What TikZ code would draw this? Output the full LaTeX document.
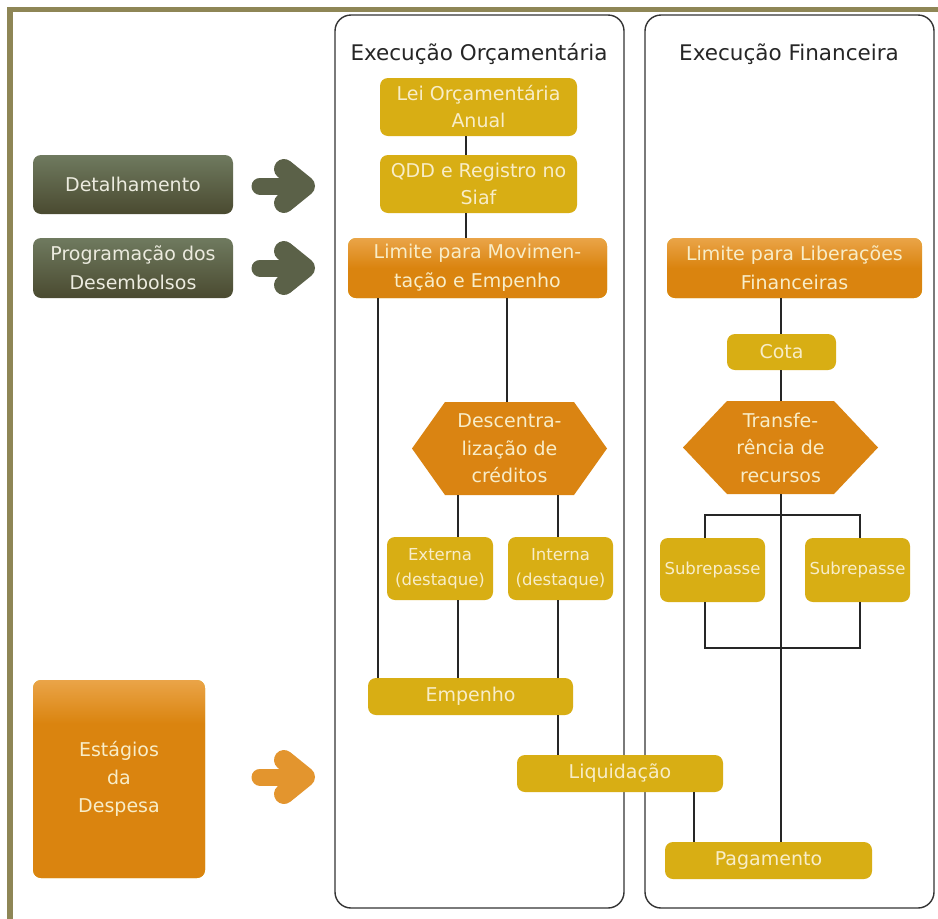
\documentclass[tikz,border=0pt]{standalone}
\usepackage{fontspec}
\setmainfont{DejaVu Sans}
\definecolor{frame}{HTML}{8E8656}
\definecolor{boxyellow}{HTML}{D8AE14}
\definecolor{boxtext}{HTML}{F8EDC8}
\definecolor{orangetop}{HTML}{EAA448}
\definecolor{orangebot}{HTML}{DA840F}
\definecolor{hexcol}{HTML}{DA8412}
\definecolor{greentop}{HTML}{6F7A5F}
\definecolor{greenbot}{HTML}{4A4A30}
\definecolor{greentext}{HTML}{ECEBDF}
\definecolor{arrowgreen}{HTML}{5B6148}
\definecolor{arroworange}{HTML}{E3952E}
\pgfdeclareverticalshading{estshade}{100bp}{color(0bp)=(orangebot); color(25bp)=(orangebot); color(64bp)=(orangebot); color(75bp)=(orangetop); color(100bp)=(orangetop)}
\pgfdeclareverticalshading{limshade}{100bp}{color(0bp)=(orangebot); color(25bp)=(orangebot); color(50bp)=(orangebot); color(75bp)=(orangetop); color(100bp)=(orangetop)}
\begin{document}
\begin{tikzpicture}[x=1pt,y=-1pt,
  panel/.style={draw=black!80, line width=1.4pt, rounded corners=16pt},
  conn/.style={draw=black!85, line width=2pt},
  ybox/.style={fill=boxyellow, rounded corners=8pt, text=boxtext, align=center, inner sep=0pt, font=\fontsize{19}{27}\selectfont},
  ysmall/.style={ybox, font=\fontsize{16.5}{25}\selectfont},
  obox/.style={ybox, shading=limshade},
  gbox/.style={rounded corners=8pt, top color=greentop, bottom color=greenbot, text=greentext, align=center, inner sep=0pt, font=\fontsize{19}{29}\selectfont},
  hexnode/.style={inner sep=0pt, align=center, text=boxtext, font=\fontsize{19}{27.5}\selectfont,
    path picture={\fill[hexcol] ([xshift=#1]path picture bounding box.north west) -- ([xshift=-#1]path picture bounding box.north east) -- (path picture bounding box.east) -- ([xshift=-#1]path picture bounding box.south east) -- ([xshift=#1]path picture bounding box.south west) -- (path picture bounding box.west) -- cycle;}},
  title/.style={anchor=base, text=black!85, font=\fontsize{21.5}{26}\selectfont},
  bigarrow/.style={line cap=round, line join=round}
]
\useasboundingbox (0,0) rectangle (938,919);
\fill[white] (0,0) rectangle (938,919);
% outer frame
\fill[frame] (7,7) rectangle (938,12);
\fill[frame] (7,7) rectangle (13,919);

% panels
\draw[panel] (335,15) rectangle (624,908);
\draw[panel] (645,15) rectangle (934,908);
\node[title] (t1) at (479,60) {Execução Orçamentária};
\node[title] (t2) at (789,60) {Execução Financeira};

% left side boxes
\node[gbox, minimum width=200pt, minimum height=59pt] (det) at (133,184.5) {Detalhamento};
\node[gbox, minimum width=200pt, minimum height=60pt] (prog) at (133,268) {Programação dos\\Desembolsos};
\node[ybox, shading=estshade, minimum width=172pt, minimum height=198pt, font=\fontsize{19}{28}\selectfont] (est) at (119,779) {Estágios\\da\\Despesa};

% big arrows
\foreach \yy/\cc in {186/arrowgreen, 268/arrowgreen, 777/arroworange}{
  \draw[bigarrow, \cc, line width=17pt] (260,\yy) -- (296,\yy);
  \draw[bigarrow, \cc, line width=20pt] (284,\yy-17) -- (305,\yy) -- (284,\yy+17);
}

% Execucao Orcamentaria
\node[ybox, minimum width=197pt, minimum height=58pt] (lei) at (478.5,107) {Lei Orçamentária\\Anual};
\node[ybox, minimum width=197pt, minimum height=58pt] (qdd) at (478.5,184) {QDD e Registro no\\Siaf};
\node[obox, minimum width=259pt, minimum height=60pt, font=\fontsize{19}{29}\selectfont] (limmov) at (477.5,268) {Limite para Movimen-\\tação e Empenho};
\node[hexnode=33pt, minimum width=195pt, minimum height=93pt] (desc) at (509.5,448.5) {Descentra-\\lização de\\créditos};
\node[ysmall, minimum width=106pt, minimum height=63pt] (ext) at (440,568.5) {Externa\\(destaque)};
\node[ysmall, minimum width=105pt, minimum height=63pt] (int) at (560.5,568.5) {Interna\\(destaque)};
\node[ybox, minimum width=205pt, minimum height=37pt] (emp) at (470.5,696.5) {Empenho};

% Execucao Financeira
\node[obox, minimum width=255pt, minimum height=60pt, font=\fontsize{19}{29}\selectfont] (limlib) at (794.5,268) {Limite para Liberações\\Financeiras};
\node[ybox, minimum width=109pt, minimum height=36pt] (cota) at (781.5,352) {Cota};
\node[hexnode=44pt, minimum width=195pt, minimum height=93pt] (transf) at (780.5,447.5) {Transfe-\\rência de\\recursos};
\node[ysmall, minimum width=105pt, minimum height=64pt] (sub1) at (712.5,570) {Subrepasse};
\node[ysmall, minimum width=105pt, minimum height=64pt] (sub2) at (857.5,570) {Subrepasse};
\node[ybox, minimum width=206pt, minimum height=37pt] (liq) at (620,773.5) {Liquidação};
\node[ybox, minimum width=207pt, minimum height=37pt] (pag) at (768.5,860.5) {Pagamento};

% vertical axes
\coordinate (vA) at (466,0);
\coordinate (vB) at (378,0);
\coordinate (vC) at (507,0);
\coordinate (vD) at (458,0);
\coordinate (vE) at (558,0);
\coordinate (vF) at (694,0);
\coordinate (vG) at (781,0);
\coordinate (vH) at (705,0);
\coordinate (vI) at (860,0);
\coordinate (bt) at (0,515);
\coordinate (bb) at (0,648);

% connectors
\draw[conn] (vA |- lei.south) -- (vA |- qdd.north);
\draw[conn] (vA |- qdd.south) -- (vA |- limmov.north);
\draw[conn] (vB |- limmov.south) -- (vB |- emp.north);
\draw[conn] (vC |- limmov.south) -- (vC |- desc.north);
\draw[conn] (vD |- desc.south) -- (vD |- ext.north);
\draw[conn] (vE |- desc.south) -- (vE |- int.north);
\draw[conn] (vD |- ext.south) -- (vD |- emp.north);
\draw[conn] (vE |- int.south) -- (vE |- emp.north);
\draw[conn] (vE |- emp.south) -- (vE |- liq.north);
\draw[conn] (vF |- liq.south) -- (vF |- pag.north);
\draw[conn] (vG |- limlib.south) -- (vG |- cota.north);
\draw[conn] (vG |- cota.south) -- (vG |- transf.north);
\draw[conn] (vG |- transf.south) -- (vG |- pag.north);
\draw[conn] (vH |- sub1.north) -- (vH |- bt) -- (vI |- bt) -- (vI |- sub2.north);
\draw[conn] (vH |- sub1.south) -- (vH |- bb) -- (vI |- bb) -- (vI |- sub2.south);
\end{tikzpicture}
\end{document}
